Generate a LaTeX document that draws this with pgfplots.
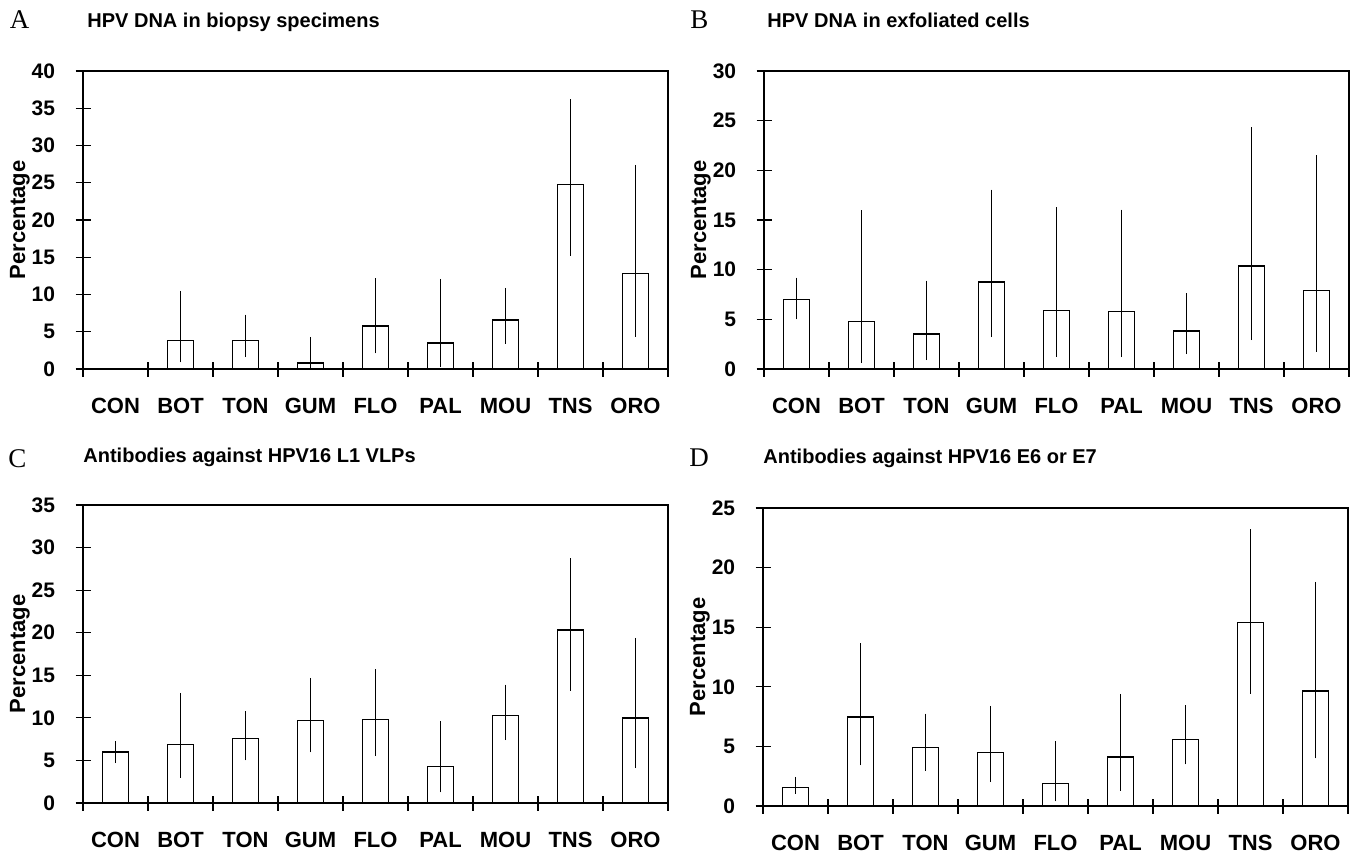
\documentclass[border=0pt]{standalone}
\usepackage{pgfplots}
\pgfplotsset{compat=1.18}
\usepackage{fontspec}
\setmainfont{Liberation Sans}
\newfontfamily\letterfont{Liberation Serif}

\pgfplotstableread{
x y ep em
2 3.8 6.7 2.9
3 3.8 3.5 2.2
4 0.8 3.5 0.8
5 5.8 6.4 3.7
6 3.5 8.6 3.2
7 6.6 4.3 3.2
8 24.75 11.45 9.55
9 12.8 14.6 8.5
}\dataA
\pgfplotstableread{
x y ep em
1 7.0 2.2 2.0
2 4.8 11.2 4.2
3 3.5 5.4 2.6
4 8.75 9.3 5.55
5 5.9 10.4 4.65
6 5.8 10.25 4.6
7 3.85 3.8 2.35
8 10.35 14.0 7.45
9 7.9 13.6 6.15
}\dataB
\pgfplotstableread{
x y ep em
1 6.0 1.25 1.3
2 6.9 6.05 3.95
3 7.55 3.25 2.55
4 9.7 5.0 3.75
5 9.8 5.9 4.3
6 4.3 5.3 3.05
7 10.3 3.6 2.9
8 20.3 8.45 7.1
9 10.0 9.4 5.9
}\dataC
\pgfplotstableread{
x y ep em
1 1.55 0.9 0.5
2 7.45 6.2 4.05
3 4.9 2.85 1.95
4 4.5 3.9 2.5
5 1.9 3.55 1.5
6 4.1 5.3 2.8
7 5.6 2.85 2.1
8 15.4 7.8 6.0
9 9.65 9.15 5.65
}\dataD

\pgfplotsset{
  panel/.style={
    width=292.5pt, height=149pt, scale only axis,
    xmin=0.5, xmax=9.5, ymin=0,
    xtick={0.5,1.5,...,9.5},
    xticklabels={CON,BOT,TON,GUM,FLO,PAL,MOU,TNS,ORO,{}},
    xticklabel style={font=\bfseries\fontsize{11}{12}\selectfont, anchor=base, inner sep=0pt, xshift=16.25pt, yshift=-18.25pt},
    ytick distance=5,
    tick align=center, tick pos=left,
    major tick length=7.5pt,
    axis line style={line width=0.8pt},
    every tick/.style={black, line width=0.6pt},
    yticklabel style={font=\bfseries\fontsize{10.5}{11}\selectfont, anchor=east, inner sep=0pt, xshift=-10pt},
    /pgf/number format/assume math mode=true,
    ylabel={Percentage},
    every axis y label/.style={at={(axis description cs:-0.1077,0.5)}, rotate=90, anchor=center, font=\bfseries\fontsize{11}{12}\selectfont},
  },
  bars/.style={ybar, bar width=0.4, fill=white, draw=black, line width=0.75pt,
    error bars/.cd, y dir=both, y explicit, error mark=none,
    error bar style={line width=0.5pt, black}},
}
\newcommand{\bartab}[1]{\addplot[bars] table[x=x, y=y, y error plus=ep, y error minus=em] {#1};}

\begin{document}
\begin{tikzpicture}
\useasboundingbox (0,0) rectangle (676pt,-426pt);
\tikzset{ttl/.style={anchor=base west, inner sep=0pt, font=\bfseries\fontsize{10}{12}\selectfont},
         let/.style={anchor=base west, inner sep=0pt, font=\letterfont\fontsize{13.5}{15}\selectfont}}
\node[let] at (4.7pt,-14pt) {A};
\node[ttl] at (43.5pt,-13.75pt) {HPV DNA in biopsy specimens};
\node[let] at (345pt,-14pt) {B};
\node[ttl] at (383.5pt,-13.75pt) {HPV DNA in exfoliated cells};
\node[let] at (4pt,-233.5pt) {C};
\node[ttl] at (41.5pt,-231pt) {Antibodies against HPV16 L1 VLPs};
\node[let] at (344.5pt,-233pt) {D};
\node[ttl] at (381.5pt,-231.5pt) {Antibodies against HPV16 E6 or E7};

\begin{axis}[panel, at={(41.5pt,-184.5pt)}, anchor=south west, ymax=40]
\bartab{\dataA}
\end{axis}
\begin{axis}[panel, at={(382pt,-184.5pt)}, anchor=south west, ymax=30]
\bartab{\dataB}
\end{axis}
\begin{axis}[panel, at={(41.5pt,-401.5pt)}, anchor=south west, ymax=35]
\bartab{\dataC}
\end{axis}
\begin{axis}[panel, at={(381.5pt,-403pt)}, anchor=south west, ymax=25]
\bartab{\dataD}
\end{axis}
\end{tikzpicture}
\end{document}
